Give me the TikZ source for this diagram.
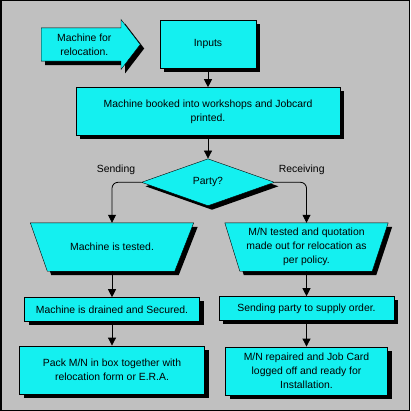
\documentclass[tikz,border=0pt]{standalone}
\usepackage{fontspec}
\setmainfont{Liberation Sans}
\usepackage{xcolor}
\usetikzlibrary{shapes.geometric, shapes.arrows, arrows.meta, positioning, shadows, backgrounds}

\definecolor{flowcyan}{RGB}{20,240,240}
\definecolor{panelgray}{RGB}{192,192,192}

\begin{document}
\begin{tikzpicture}[
    x=1pt, y=-1pt,
    font=\fontsize{10.4}{14}\selectfont,
    boxshadow/.style={drop shadow={shadow xshift=4pt, shadow yshift=-4pt, opacity=1, fill=black}},
    block/.style={rectangle, draw, fill=flowcyan, align=center, boxshadow, inner sep=2pt},
    manualop/.style={rectangle, align=center, inner sep=0pt, minimum width=163pt, minimum height=48pt},
    manualface/.style={draw, fill=flowcyan, boxshadow},
    decision/.style={diamond, draw, fill=flowcyan, boxshadow, aspect=2.8, minimum width=133pt, minimum height=47pt, inner sep=0pt},
    source/.style={single arrow, draw, fill=flowcyan, boxshadow, align=center, inner sep=2pt, minimum height=99pt, minimum width=50pt, single arrow head extend=6.5pt, single arrow tip angle=105},
    arrow/.style={thick, -{Triangle[length=8pt, width=8pt]}},
    branch/.style={arrow, rounded corners=6pt},
    lbl/.style={inner sep=0pt}
]

% Panel
\useasboundingbox (0,0) rectangle (410,411);
\begin{scope}[on background layer]
    \draw[fill=panelgray, line width=1.5pt] (0.75,0.75) rectangle (409.25,410.25);
\end{scope}

% Nodes
\node [source, anchor=tail] (reloc) at (41,44.5) {Machine for\\relocation.};
\node [block, minimum width=96pt, minimum height=48pt] (inputs) at (208,44) {Inputs};
\node [block, minimum width=264pt, minimum height=48pt, below=19pt of inputs] (booked) {Machine booked into workshops and Jobcard\\printed.};
\node [decision, below=23pt of booked] (party) {Party?};
\node [lbl, above left=7pt and 6pt of party.west] (sendlbl) {Sending};
\node [lbl, above right=7pt and 4pt of party.east] (recvlbl) {Receiving};

\node [manualop] (tested) at (112,247) {Machine is tested.};
\node [manualop] (quote) at (306.5,247) {M/N tested and quotation\\made out for relocation as\\per policy.};

\node [block, minimum width=175pt, minimum height=24pt, below=26pt of tested] (drained) {Machine is drained and Secured.};
\node [block, minimum width=185pt, minimum height=48pt, below=24pt of drained] (pack) {Pack M/N in box together with\\relocation form or E.R.A.};
\node [block, minimum width=175pt, minimum height=24pt, below=25pt of quote] (supply) {Sending party to supply order.};
\node [block, minimum width=162pt, minimum height=48pt, below=26pt of supply] (repaired) {M/N repaired and Job Card\\logged off and ready for\\Installation.};

% Manual operation outlines
\begin{scope}[on background layer]
    \path [manualface] (tested.north west) -- (tested.north east) -- ([xshift=-19pt]tested.south east) -- ([xshift=17pt]tested.south west) -- cycle;
    \path [manualface] (quote.north west) -- (quote.north east) -- ([xshift=-16pt]quote.south east) -- ([xshift=15pt]quote.south west) -- cycle;
\end{scope}

% Arrows
\draw [arrow] (inputs) -- (booked);
\draw [arrow] (booked) -- (party);
\draw [branch] (party.west) -| (tested.north);
\draw [branch] (party.east) -| (quote.north);
\draw [arrow] (tested.south) -- (drained.north);
\draw [arrow] (drained) -- (pack);
\draw [arrow] (quote.south) -- (supply.north);
\draw [arrow] (supply) -- (repaired);

\end{tikzpicture}
\end{document}
